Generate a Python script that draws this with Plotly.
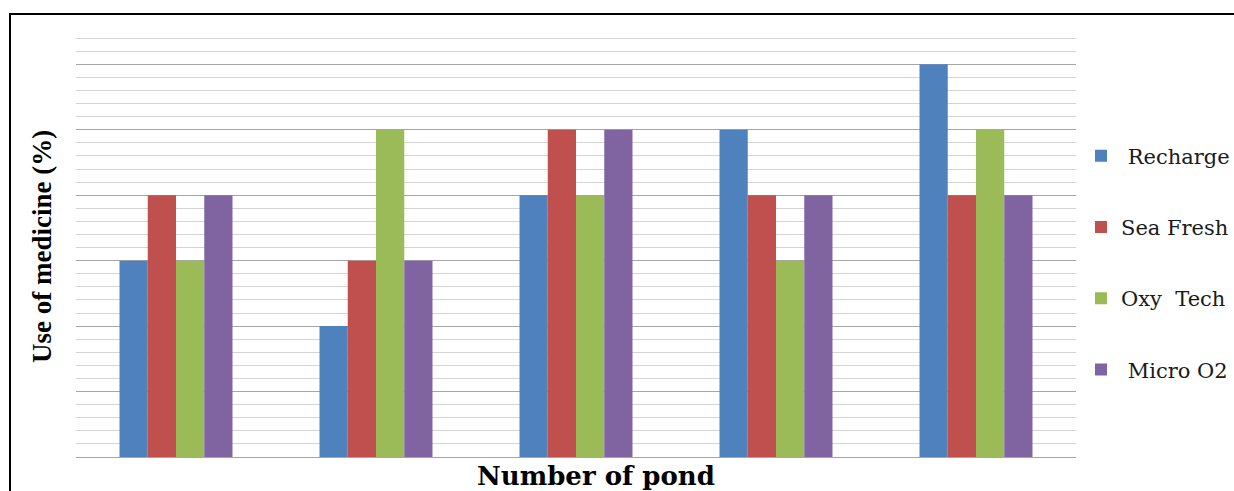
import plotly.graph_objects as go

# Ponds on the category axis
ponds = ["Pond 1", "Pond 2", "Pond 3", "Pond 4", "Pond 5"]

# Share of ponds using each product (%)
recharge = [30, 20, 40, 50, 60]
sea_fresh = [40, 30, 50, 40, 40]
oxy_tech = [30, 50, 40, 30, 50]
micro_o2 = [40, 30, 50, 40, 40]

series_names = ["\u00a0Recharge", "Sea Fresh", "Oxy\u00a0 Tech", "\u00a0Micro O2"]
series_values = [recharge, sea_fresh, oxy_tech, micro_o2]
series_colors = ["#4f81bd", "#c0504d", "#9bbb59", "#8064a2"]

fig = go.Figure()
for i, (name, vals, col) in enumerate(zip(series_names, series_values, series_colors)):
    fig.add_trace(go.Bar(
        x=ponds, y=vals, name=name, legendgroup=f"g{i}",
        marker=dict(color=col, line=dict(width=0)),
    ))

W, H = 1234, 491
L, R, T, B = 76, 158, 25, 34
plot_w = W - L - R
plot_h = H - T - B


def px_x(p):
    return (p - L) / plot_w


def px_y(p):
    return (H - B - p) / plot_h


serif = "Liberation Serif"
wide_serif = "DejaVu Serif"

fig.update_layout(
    width=W, height=H,
    margin=dict(l=L, r=R, t=T, b=B, pad=0, autoexpand=False),
    paper_bgcolor="white", plot_bgcolor="white",
    font=dict(family=serif),
    barmode="group", bargap=0.435, bargroupgap=0,
    showlegend=True,
    legend=dict(
        x=px_x(1081), xanchor="left",
        y=px_y(263), yanchor="middle",
        font=dict(family=wide_serif, size=21, color="#1a1a1a"),
        tracegroupgap=41, bgcolor="rgba(0,0,0,0)",
    ),
    xaxis=dict(showticklabels=False, showgrid=False, zeroline=False,
               showline=False, ticks=""),
    yaxis=dict(range=[0, 66], dtick=10, showticklabels=False, ticks="",
               showgrid=True, gridcolor="#a6a6a6", gridwidth=1,
               zeroline=True, zerolinecolor="#a6a6a6", zerolinewidth=1,
               showline=False,
               minor=dict(dtick=2, showgrid=True, gridcolor="#d4d4d4", gridwidth=1)),
    annotations=[
        dict(text="<b>Number of pond</b>", xref="paper", yref="paper",
             x=px_x(596), y=px_y(476), xanchor="center", yanchor="middle",
             showarrow=False, font=dict(family=wide_serif, size=26, color="black")),
        dict(text="<b>Use of medicine (%)</b>", xref="paper", yref="paper",
             x=px_x(42), y=px_y(247), xanchor="center", yanchor="middle",
             textangle=-90, showarrow=False,
             font=dict(family=serif, size=27, color="black")),
    ],
    shapes=[
        dict(type="rect", xref="paper", yref="paper",
             x0=px_x(10), x1=px_x(1300), y0=px_y(560), y1=px_y(14),
             line=dict(color="black", width=2), fillcolor="rgba(0,0,0,0)",
             layer="above"),
    ],
)

fig.write_html("out.html")
